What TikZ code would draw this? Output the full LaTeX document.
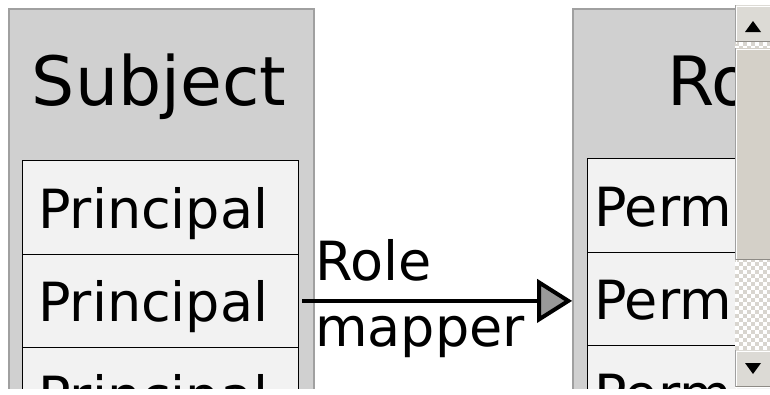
\documentclass[tikz,border=0pt]{standalone}
\usepackage{fontspec}
\setmainfont{DejaVu Sans}
\definecolor{panelfill}{HTML}{D0D0D0}
\definecolor{panelline}{HTML}{A0A0A0}
\definecolor{cellfill}{HTML}{F2F2F2}
\definecolor{arrowgray}{HTML}{999999}
\definecolor{sbfill}{HTML}{DCDAD5}
\definecolor{sbthumb}{HTML}{D4D0C8}
\definecolor{sbdark}{HTML}{8E8B86}
\definecolor{sbcheck}{HTML}{D8D5CF}
\begin{document}
\begin{tikzpicture}[x=1pt,y=-1pt,
  panel/.style={draw=panelline,fill=panelfill,line width=2pt,anchor=north west,inner sep=0pt},
  cell/.style={draw=black,fill=cellfill,line width=1.3pt,anchor=north west,inner sep=0pt},
  titletext/.style={font=\fontsize{68}{80}\selectfont,inner sep=0pt},
  celltext/.style={font=\fontsize{54}{64}\selectfont,inner sep=0pt,anchor=base west},
  sbbox/.style={fill=sbfill,anchor=north west,inner sep=0pt,minimum width=35pt},
  connector/.style={line width=4pt},
  arrowhead/.style={line width=4pt,draw=black,fill=arrowgray,line join=miter}
]
\useasboundingbox (0,0) rectangle (770,394);
\begin{scope}
\clip (0,0) rectangle (770,388);
% left panel
\node[panel,minimum width=305pt,minimum height=420pt] (subj) at (8,8) {};
\node[cell,minimum width=276pt,minimum height=93.5pt] (l1) at (22,160) {};
\node[cell,minimum width=276pt,minimum height=93.5pt] (l2) at (22,253.5) {};
\node[cell,minimum width=276pt,minimum height=93.5pt] (l3) at (22,347) {};
\node[titletext,anchor=base] (subjt) at (159,105) {Subject};
\node[celltext] (l1t) at (38,228) {Principal};
\node[celltext] (l2t) at (38,321) {Principal};
\node[celltext] (l3t) at (38,415) {Principal};
% right panel
\node[panel,minimum width=330pt,minimum height=420pt] (role) at (572,8) {};
\node[cell,minimum width=320pt,minimum height=93.5pt] (r1) at (587,158) {};
\node[cell,minimum width=320pt,minimum height=93.5pt] (r2) at (587,251.5) {};
\node[cell,minimum width=320pt,minimum height=93.5pt] (r3) at (587,345) {};
\node[titletext,anchor=base west] (rolet) at (667,105) {Role};
\node[celltext] (r1t) at (594,226) {Perm};
\node[celltext] (r2t) at (594,319) {Perm};
\node[celltext] (r3t) at (594,413) {Perm};
% connector
\coordinate (tip) at (l2.east -| role.west);
\draw[connector] ([xshift=3pt]l2.east) -- ([xshift=-32pt]tip);
\draw[arrowhead] ([xshift=-33pt,yshift=-18.5pt]tip) -- ([xshift=-3.7pt]tip) -- ([xshift=-33pt,yshift=18.5pt]tip) -- cycle;
\node[celltext] (lab1) at (315,280) {Role};
\node[celltext] (lab2) at (315,346) {mapper};
% scrollbar
\node[sbbox,fill=white,minimum height=346pt] (trough) at (735,42) {};
\begin{scope}
\clip (735,42) rectangle (770,350);
\foreach \i in {0,...,8}{
  \foreach \j in {0,...,77}{
    \pgfmathtruncatemacro{\chk}{mod(\i+\j,2)}
    \ifnum\chk=0
      \fill[sbcheck] (735+4*\i,42+4*\j) rectangle ++(4,4);
    \fi
  }
}
\end{scope}
\node[sbbox,minimum height=37pt] (up) at (735,5) {};
\node[sbbox,fill=sbthumb,minimum height=212pt] (thumb) at (735,48) {};
\node[sbbox,minimum height=37pt] (down) at (735,350) {};
\foreach \b in {up,thumb,down}{
  \draw[white,line width=1.2pt] ([xshift=1.5pt,yshift=-1.5pt]\b.south west) -- ([xshift=1.5pt,yshift=-1.5pt]\b.north west) -- ([yshift=-1.5pt]\b.north east);
  \draw[sbdark,line width=1.2pt] ([yshift=0.6pt]\b.south west) -- ([yshift=0.6pt]\b.south east);
  \draw[panelline,line width=0.8pt] (\b.north west) -- (\b.south west);
}
\fill[black] (745,32) -- (761,32) -- (753,21) -- cycle;
\fill[black] (745,363) -- (761,363) -- (753,374) -- cycle;
\end{scope}
\end{tikzpicture}
\end{document}
